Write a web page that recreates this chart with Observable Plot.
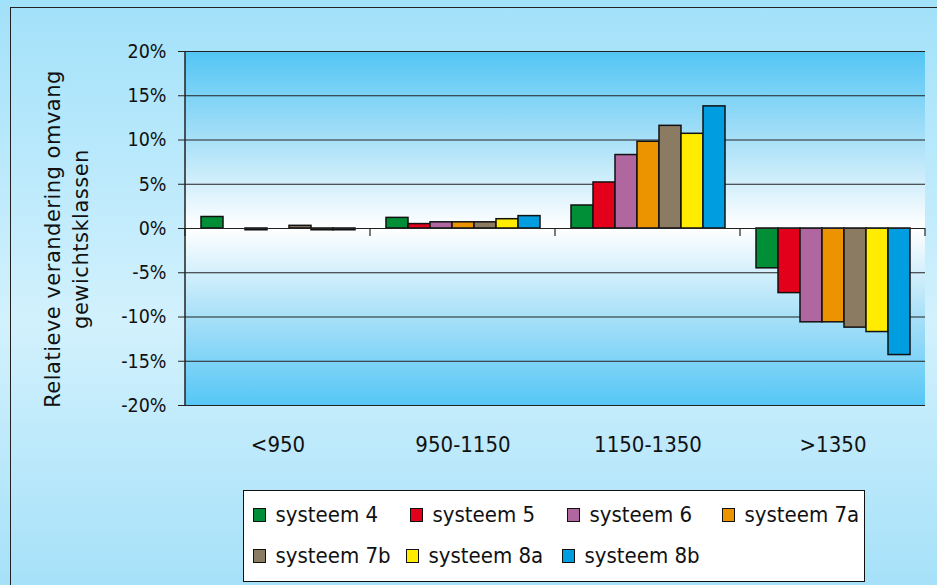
<!DOCTYPE html>
<html>
<head>
<meta charset="utf-8">
<script src="https://cdn.jsdelivr.net/npm/d3@7"></script>
<script src="https://cdn.jsdelivr.net/npm/@observablehq/plot@0.6"></script>
<style>
  html, body { margin: 0; padding: 0; }
  body { width: 937px; height: 585px; overflow: hidden; font-family: "DejaVu Sans Condensed", "DejaVu Sans", sans-serif; }
  #wrap { position: relative; width: 937px; height: 585px;
    background: linear-gradient(to bottom, #a2e1fa 0%, #d2f1fd 55%, #a6e1f9 100%); }
  #frame { position: absolute; left: 10px; top: 7px; width: 940px; height: 600px; border: 1.5px solid #222; box-sizing: border-box; }
  #plotArea { position: absolute; left: 185px; top: 51px; width: 740px; height: 354px;
    background: linear-gradient(to bottom, #52c5f4 0%, #a8e0f8 25%, #ffffff 50%, #a8e0f8 75%, #56c7f5 100%); }
  #chart { position: absolute; left: 0; top: 0; }
  #ytitle { position: absolute; left: 67px; top: 239px; transform: translate(-50%, -50%) rotate(-90deg);
    font-family: "DejaVu Sans", sans-serif; font-size: 21px; letter-spacing: 0.5px; line-height: 28px;
    text-align: center; white-space: nowrap; color: #111; }
  #legend { position: absolute; left: 243px; top: 490px; width: 622px; height: 92px; background: #fff;
    border: 1.5px solid #111; box-sizing: border-box; font-size: 22px; color: #111; }
  .item { position: absolute; display: flex; align-items: center; white-space: nowrap; height: 26px; }
  .sw { width: 13px; height: 14px; border: 1.3px solid #111; box-sizing: border-box; margin-right: 10px; }
</style>
</head>
<body>
<div id="wrap">
  <div id="frame"></div>
  <div id="plotArea"></div>
  <div id="chart"></div>
  <div id="ytitle">Relatieve verandering omvang<br>gewichtsklassen</div>
  <div id="legend"></div>
</div>
<script>
const categories = ["<950", "950-1150", "1150-1350", ">1350"];
const series = ["systeem 4", "systeem 5", "systeem 6", "systeem 7a", "systeem 7b", "systeem 8a", "systeem 8b"];
const colors = ["#008f36", "#e2001a", "#b0669e", "#ec9400", "#8a7b62", "#ffec00", "#009ee0"];
// values per series, in category order
const s4  = [1.3, 1.2, 2.6, -4.5];
const s5  = [0.0, 0.5, 5.2, -7.3];
const s6  = [-0.2, 0.7, 8.3, -10.6];
const s7a = [0.0, 0.7, 9.8, -10.6];
const s7b = [0.3, 0.7, 11.6, -11.2];
const s8a = [-0.2, 1.05, 10.7, -11.7];
const s8b = [-0.2, 1.4, 13.8, -14.3];
const yTicks = [-20, -15, -10, -5, 0, 5, 10, 15, 20];

const valueSets = [s4, s5, s6, s7a, s7b, s8a, s8b];
const data = [];
categories.forEach((c, ci) => series.forEach((s, si) => data.push({cat: c, ser: s, v: valueSets[si][ci]})));

const font = '"DejaVu Sans Condensed", "DejaVu Sans", sans-serif';
const plot = Plot.plot({
  width: 937, height: 585,
  marginLeft: 185, marginRight: 12, marginTop: 51, marginBottom: 180,
  style: {background: "transparent", fontFamily: font, fontSize: "19px", color: "#111", overflow: "visible"},
  fx: {domain: categories, paddingInner: 0, paddingOuter: 0, label: null},
  x: {domain: series, paddingInner: 0, paddingOuter: 0.7, axis: null},
  y: {domain: [-20, 20], ticks: yTicks, label: null},
  color: {domain: series, range: colors},
  marks: [
    Plot.ruleY(yTicks, {stroke: "#222", strokeWidth: 1}),
    Plot.barY(data, {fx: "cat", x: "ser", y: "v", fill: "ser", stroke: "#111", strokeWidth: 1.5}),
    Plot.ruleY([0], {stroke: "#222", strokeWidth: 1}),
    Plot.axisY({ticks: yTicks, tickSize: 7, tickPadding: 12, tickFormat: d => `${d}%`, fontSize: 19.5, label: null, stroke: "#222"}),
    Plot.axisFx({anchor: "bottom", tickSize: 0, tickPadding: 31, fontSize: 22, label: null})
  ]
});
document.getElementById("chart").appendChild(plot);

// y axis line and category boundary ticks at the zero line, placed with Plot's scales
const fx = plot.scale("fx"), y = plot.scale("y");
const svg = d3.select(plot);
const y0 = y.apply(0), yTop = y.apply(20), yBot = y.apply(-20);
svg.append("line").attr("x1", 185).attr("x2", 185).attr("y1", yTop).attr("y2", yBot).attr("stroke", "#222").attr("stroke-width", 1.5);
const edges = categories.map(c => fx.apply(c)).concat([fx.apply(categories[3]) + fx.bandwidth]);
edges.forEach(e => svg.append("line").attr("x1", e).attr("x2", e).attr("y1", y0).attr("y2", y0 + 8).attr("stroke", "#222").attr("stroke-width", 1.2));

// legend
const pos = [[253, 515], [410, 515], [567, 515], [722, 515], [253, 556], [406, 556], [562, 556]];
const legend = document.getElementById("legend");
series.forEach((s, i) => {
  const it = document.createElement("div");
  it.className = "item";
  it.style.left = (pos[i][0] - 243 - 1.5) + "px";
  it.style.top = (pos[i][1] - 490 - 1.5 - 13) + "px";
  it.innerHTML = `<div class="sw" style="background:${colors[i]}"></div><span>${s}</span>`;
  legend.appendChild(it);
});
</script>
</body>
</html>
